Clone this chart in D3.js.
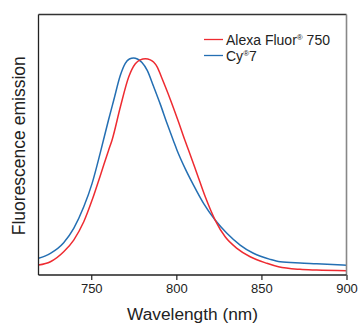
<!DOCTYPE html>
<html>
<head>
<meta charset="utf-8">
<script src="https://cdn.jsdelivr.net/npm/d3@7"></script>
<style>
  body { margin: 0; background: #fff; }
  text { font-family: "Liberation Sans", Arial, sans-serif; fill: #222; }
</style>
</head>
<body>
<div class="chart-container"></div>
<script>
// wavelength (nm) sample points
const alexaWl = [719, 726, 733.8, 739.7, 745.6, 750.5, 755.4, 760.2, 762.2, 767.1, 772, 775.9, 778.8, 781.8, 784.7, 786.6, 788.8, 791.6, 796.4, 801.3, 805.2, 807.2, 812.1, 817, 822.8, 828.7, 835.6, 843.4, 853.2, 860, 872.7, 882.5, 900];
const alexaEm = [0.046, 0.061, 0.107, 0.161, 0.245, 0.345, 0.46, 0.575, 0.621, 0.774, 0.912, 0.973, 0.991, 0.996, 0.991, 0.981, 0.958, 0.905, 0.81, 0.705, 0.617, 0.575, 0.468, 0.36, 0.253, 0.176, 0.123, 0.084, 0.054, 0.038, 0.026, 0.023, 0.02];

const cy7Wl = [719, 726, 733.8, 739.7, 745.6, 750.5, 755.4, 760.1, 763.2, 767.1, 770, 772.4, 774.9, 777.1, 779.8, 782.9, 786.6, 790.6, 794.5, 798.4, 800.4, 805.2, 810.1, 816, 822.8, 829.7, 837.5, 845.3, 855.1, 861, 872.7, 882.5, 900];
const cy7Em = [0.077, 0.1, 0.149, 0.215, 0.314, 0.422, 0.566, 0.713, 0.805, 0.92, 0.975, 0.995, 1.0, 0.995, 0.979, 0.943, 0.869, 0.786, 0.699, 0.616, 0.575, 0.49, 0.414, 0.33, 0.253, 0.192, 0.138, 0.1, 0.072, 0.061, 0.055, 0.052, 0.045];

const xTicks = [750, 800, 850, 900];
const seriesNames = ['Alexa Fluor® 750', 'Cy®7'];
const seriesColors = ['#ee2b31', '#246fb3'];

const width = 358, height = 325;
const margin = { top: 14.5, right: 11.5, bottom: 50, left: 38.5 };

const svg = d3.select('.chart-container')
  .append('svg')
  .attr('width', width)
  .attr('height', height);

const x = d3.scaleLinear()
  .domain([719, 900])
  .range([margin.left, width - margin.right]);

const y = d3.scaleLinear()
  .domain([0, 1.2])
  .range([height - margin.bottom, margin.top]);

const series = [
  alexaWl.map((w, i) => ({ w, v: alexaEm[i] })),
  cy7Wl.map((w, i) => ({ w, v: cy7Em[i] }))
];

const line = d3.line()
  .x(d => x(d.w))
  .y(d => y(d.v))
  .curve(d3.curveMonotoneX);

// draw Cy7 first, Alexa on top
[1, 0].forEach(i => {
  svg.append('path')
    .datum(series[i])
    .attr('fill', 'none')
    .attr('stroke', seriesColors[i])
    .attr('stroke-width', 1.5)
    .attr('d', line);
});

// frame
const x0 = x.range()[0], x1 = x.range()[1];
const y0 = y.range()[0], y1 = y.range()[1];
svg.append('line').attr('x1', x0).attr('x2', x1).attr('y1', y1).attr('y2', y1)
  .attr('stroke', '#333').attr('stroke-width', 1.3);
svg.append('line').attr('x1', x1).attr('x2', x1).attr('y1', y1).attr('y2', y0)
  .attr('stroke', '#888').attr('stroke-width', 1.6);
svg.append('line').attr('x1', x0).attr('x2', x0).attr('y1', y1).attr('y2', y0)
  .attr('stroke', '#222').attr('stroke-width', 1.3);

const xAxis = svg.append('g')
  .attr('transform', `translate(0,${y0})`)
  .call(d3.axisBottom(x).tickValues(xTicks).tickSize(5).tickPadding(4).tickSizeOuter(0));
xAxis.select('.domain').attr('stroke', '#222').attr('stroke-width', 1.3)
  .attr('d', `M${x0},0H${x1}`);
xAxis.selectAll('.tick line').attr('stroke', '#222').attr('stroke-width', 1.2);
xAxis.selectAll('.tick text')
  .style('font-size', '13px')
  .style('font-family', '"Liberation Sans", Arial, sans-serif')
  .attr('fill', '#222');

svg.append('text')
  .attr('x', (x0 + x1) / 2)
  .attr('y', 320)
  .attr('text-anchor', 'middle')
  .style('font-size', '17.3px')
  .text('Wavelength (nm)');

svg.append('text')
  .attr('transform', `translate(25,${(y0 + y1) / 2 + 1}) rotate(-90)`)
  .attr('text-anchor', 'middle')
  .style('font-size', '17.5px')
  .text('Fluorescence emission');

// legend
const legend = svg.append('g');
seriesNames.forEach((name, i) => {
  const ly = 39.5 + i * 16;
  legend.append('line')
    .attr('x1', 204).attr('x2', 223)
    .attr('y1', ly).attr('y2', ly)
    .attr('stroke', seriesColors[i])
    .attr('stroke-width', 1.3);
  const t = legend.append('text')
    .attr('x', 226)
    .attr('y', ly + 5)
    .style('font-size', '14px');
  const parts = name.split('®');
  t.append('tspan').text(parts[0]);
  t.append('tspan').attr('dy', -5).style('font-size', '8px').text('®');
  t.append('tspan').attr('dy', 5).text(parts[1]);
});
</script>
</body>
</html>
